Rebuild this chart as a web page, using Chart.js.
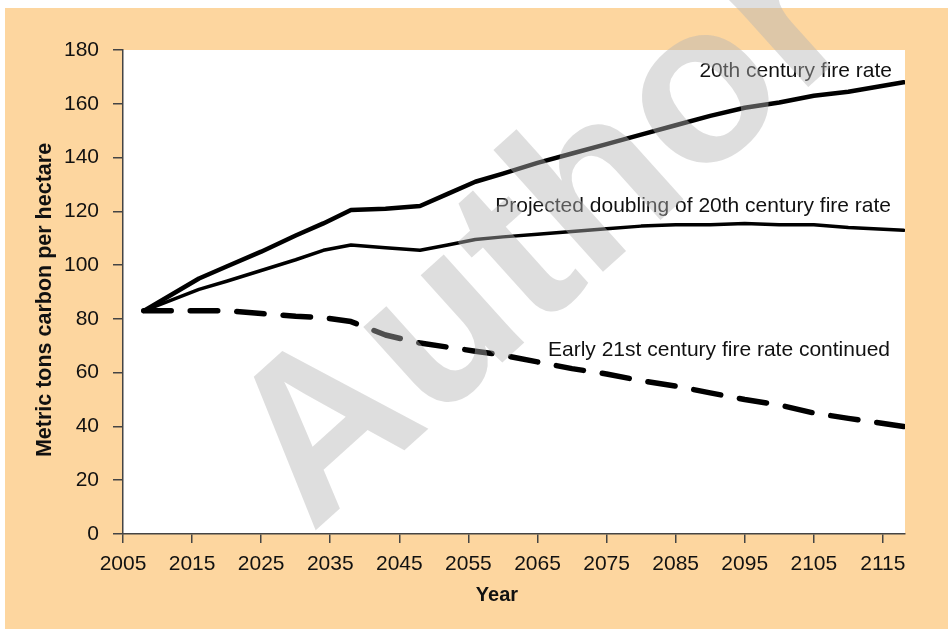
<!DOCTYPE html>
<html>
<head>
<meta charset="utf-8">
<script src="https://cdn.jsdelivr.net/npm/chart.js@4.4.1/dist/chart.umd.min.js"></script>
<style>
  html, body { margin: 0; padding: 0; background: #ffffff; }
  #chart { position: absolute; left: 0; top: 0; }
</style>
</head>
<body>
<canvas id="chart" width="948" height="629"></canvas>
<script>
// data (metric tons carbon per hectare)
const years = [2008, 2012, 2016, 2020, 2025, 2030, 2034, 2038, 2043, 2048, 2052, 2056,
               2060, 2065, 2070, 2075, 2080, 2085, 2090, 2095, 2100, 2105, 2110, 2118];
const rate20th = [83, 89, 95, 99.5, 105, 111, 115.5, 120.5, 121, 122, 126.5, 131,
                  134, 138, 141.5, 145, 148.5, 152, 155.5, 158.5, 160.5, 163, 164.5, 168];
const doubled = [83, 87, 91, 94, 98, 102, 105.5, 107.5, 106.5, 105.5, 107.5, 109.5,
                 110.5, 111.5, 112.5, 113.5, 114.5, 115, 115, 115.5, 115, 115, 114, 113];
const early21st = [83, 83, 83, 83, 82, 81, 80.5, 79, 74, 71, 69.5, 68,
                   66.5, 64, 61.5, 59.5, 57, 55, 52.5, 50, 48, 45, 43, 40];
const xTicks = [2005, 2015, 2025, 2035, 2045, 2055, 2065, 2075, 2085, 2095, 2105, 2115];

const seriesNames = ["20th century fire rate", "Projected doubling of 20th century fire rate", "Early 21st century fire rate continued"];

const PEACH = "#fdd69f";
const FONT = "'Liberation Sans', Arial, Helvetica, sans-serif";

function toPoints(vals) {
    return years.map((y, i) => ({ x: y, y: vals[i] }));
}

// background, white plot area, line labels, axis titles and the watermark
const decorations = {
    id: "decorations",
    beforeDraw(chart) {
        const { ctx, chartArea } = chart;
        ctx.save();
        ctx.fillStyle = "#ffffff";
        ctx.fillRect(0, 0, chart.width, chart.height);
        ctx.fillStyle = PEACH;
        ctx.fillRect(5, 8, chart.width - 5, chart.height - 8);
        ctx.fillStyle = "#ffffff";
        ctx.fillRect(chartArea.left, chartArea.top, chartArea.right - chartArea.left, chartArea.bottom - chartArea.top);
        ctx.restore();
    },
    afterDraw(chart) {
        const { ctx } = chart;
        ctx.save();
        ctx.fillStyle = "#111111";
        ctx.font = "21px " + FONT;
        ctx.textAlign = "right";
        ctx.textBaseline = "middle";
        ctx.fillText(seriesNames[0], 892, 71);
        ctx.fillText(seriesNames[1], 891, 206);
        ctx.fillText(seriesNames[2], 890, 350);

        ctx.font = "bold 20px " + FONT;
        ctx.textAlign = "center";
        ctx.fillText("Year", 497, 595);
        ctx.font = "bold 21.5px " + FONT;
        ctx.translate(45, 300);
        ctx.rotate(-Math.PI / 2);
        ctx.fillText("Metric tons carbon per hectare", 0, 0);
        ctx.restore();

        ctx.save();
        ctx.translate(545, 240);
        ctx.rotate(-42 * Math.PI / 180);
        ctx.font = "bold 226px " + FONT;
        ctx.fillStyle = "rgba(180,180,180,0.44)";
        ctx.textAlign = "center";
        ctx.textBaseline = "middle";
        ctx.fillText("Author", 0, 0);
        ctx.restore();
    }
};

new Chart(document.getElementById("chart"), {
    type: "line",
    data: {
        datasets: [
            {
                label: seriesNames[0],
                data: toPoints(rate20th),
                borderColor: "#000000",
                borderWidth: 4.5,
                pointRadius: 0,
                borderCapStyle: "round",
                borderJoinStyle: "round"
            },
            {
                label: seriesNames[1],
                data: toPoints(doubled),
                borderColor: "#000000",
                borderWidth: 3.5,
                pointRadius: 0,
                borderCapStyle: "round",
                borderJoinStyle: "round"
            },
            {
                label: seriesNames[2],
                data: toPoints(early21st),
                borderColor: "#000000",
                borderWidth: 5.5,
                borderDash: [27.5, 19],
                pointRadius: 0,
                borderCapStyle: "round",
                borderJoinStyle: "round"
            }
        ]
    },
    options: {
        responsive: false,
        animation: false,
        devicePixelRatio: 1,
        layout: { padding: { top: 50, right: 43, bottom: 0, left: 0 } },
        plugins: {
            legend: { display: false },
            tooltip: { enabled: false }
        },
        scales: {
            x: {
                type: "linear",
                min: 2005,
                max: 2118.2,
                afterBuildTicks: (scale) => { scale.ticks = xTicks.map(v => ({ value: v })); },
                afterFit: (scale) => { scale.height = 95; },
                ticks: {
                    color: "#111111",
                    font: { family: FONT, size: 21 },
                    padding: 9,
                    maxRotation: 0,
                    autoSkip: false,
                    callback: (v) => String(v)
                },
                grid: { drawOnChartArea: false, drawTicks: true, tickLength: 9, color: "#444444", lineWidth: 1.5 },
                border: { display: true, color: "#444444", width: 1.5 }
            },
            y: {
                min: 0,
                max: 180,
                afterFit: (scale) => { scale.width = 123; },
                ticks: {
                    stepSize: 20,
                    color: "#111111",
                    font: { family: FONT, size: 21 },
                    padding: 14
                },
                grid: { drawOnChartArea: false, drawTicks: true, tickLength: 10, color: "#444444", lineWidth: 1.5 },
                border: { display: true, color: "#444444", width: 1.5 }
            }
        }
    },
    plugins: [decorations]
});
</script>
</body>
</html>
